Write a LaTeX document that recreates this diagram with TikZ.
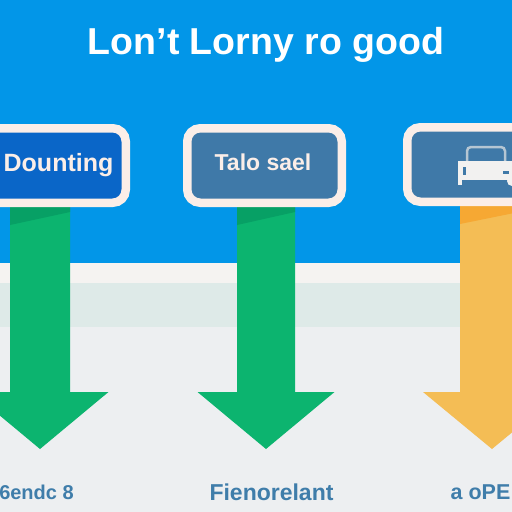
\documentclass[tikz,border=0pt]{standalone}
\usepackage{fontspec}
\setmainfont{Liberation Sans}
\definecolor{skyblue}{HTML}{0296E8}
\definecolor{bandA}{HTML}{F5F3F1}
\definecolor{bandB}{HTML}{DEEAE8}
\definecolor{floorgrey}{HTML}{EDEFF1}
\definecolor{frame}{HTML}{FBEEE8}
\definecolor{deepblue}{HTML}{0A66C8}
\definecolor{slate}{HTML}{3F79A8}
\definecolor{greenA}{HTML}{0CB46F}
\definecolor{greenB}{HTML}{07A065}
\definecolor{orangeA}{HTML}{F4BD55}
\definecolor{orangeB}{HTML}{F6A833}
\definecolor{caption}{HTML}{3F7DAA}
\definecolor{carbody}{HTML}{F2F1F0}
\definecolor{carroof}{HTML}{B5C6D3}
\newcommand{\bigarrow}[6]{% x-centre, half shaft, half head, top y, colour, dark colour
  \fill[#5] (#1-#2,#4) -- (#1+#2,#4) -- (#1+#2,392) -- (#1+#3,392) -- (#1,449) -- (#1-#3,392) -- (#1-#2,392) -- cycle;
  \fill[#6] (#1-#2,#4) -- (#1+#2,#4) -- (#1+#2,#4+5) -- (#1-#2,#4+18) -- cycle;
}
\tikzset{
  signbox/.style={draw=frame, line width=8.5pt, rounded corners=13pt, minimum height=74.5pt, anchor=center, inner sep=0pt},
  signtext/.style={text=frame, font=\bfseries\fontsize{23}{23}\selectfont, inner sep=0pt},
  captext/.style={text=caption, font=\bfseries\fontsize{20}{20}\selectfont, inner sep=0pt},
  titletext/.style={text=white, font=\bfseries\fontsize{37.5}{38}\selectfont, inner sep=0pt},
}
\begin{document}
\begin{tikzpicture}[x=1pt,y=-1pt]
\useasboundingbox (0,0) rectangle (512,512);
\clip (0,0) rectangle (512,512);
\fill[floorgrey] (0,0) rectangle (512,512);
\fill[skyblue] (0,0) rectangle (512,263);
\fill[bandA] (0,263) rectangle (512,283);
\fill[bandB] (0,283) rectangle (512,327);
\bigarrow{40}{30}{68.5}{207}{greenA}{greenB}
\bigarrow{266}{29}{68.5}{207}{greenA}{greenB}
\bigarrow{492}{32}{69}{206}{orangeA}{orangeB}
\node[titletext] (title) at (266,45) {Lon't Lorny ro good};
\node[signbox, fill=deepblue, minimum width=146pt] (boxa) at (52.75,165.5) {};
\node[signbox, fill=slate, minimum width=154.5pt] (boxb) at (264.5,165.5) {};
\node[signbox, fill=slate, minimum width=170pt] (boxc) at (492.25,164.5) {};
\node[signtext, font=\bfseries\fontsize{25}{25}\selectfont] (texta) at (58.5,165) {Dounting};
\node[signtext] (textb) at (263,162) {Talo sael};
\node[captext] (capa) at (36.5,492) {6endc 8};
\node[captext, font=\bfseries\fontsize{23}{23}\selectfont] (capb) at (271.5,492) {Fienorelant};
\node[captext, font=\bfseries\fontsize{21.5}{22}\selectfont] (capc) at (480.5,492) {a oPE};
% car icon
\draw[carroof, line width=2.5pt, rounded corners=4pt] (467,161) -- (467,147) -- (505,147) -- (505,161);
\fill[carbody] (458,161) rectangle (512,180);
\fill[carbody] (458,180) rectangle (462,185);
\fill[carbody] (512,181) circle (5);
\fill[slate] (463,167) rectangle (466,175);
\fill[slate] (503,171) rectangle (509,174);
\end{tikzpicture}
\end{document}
